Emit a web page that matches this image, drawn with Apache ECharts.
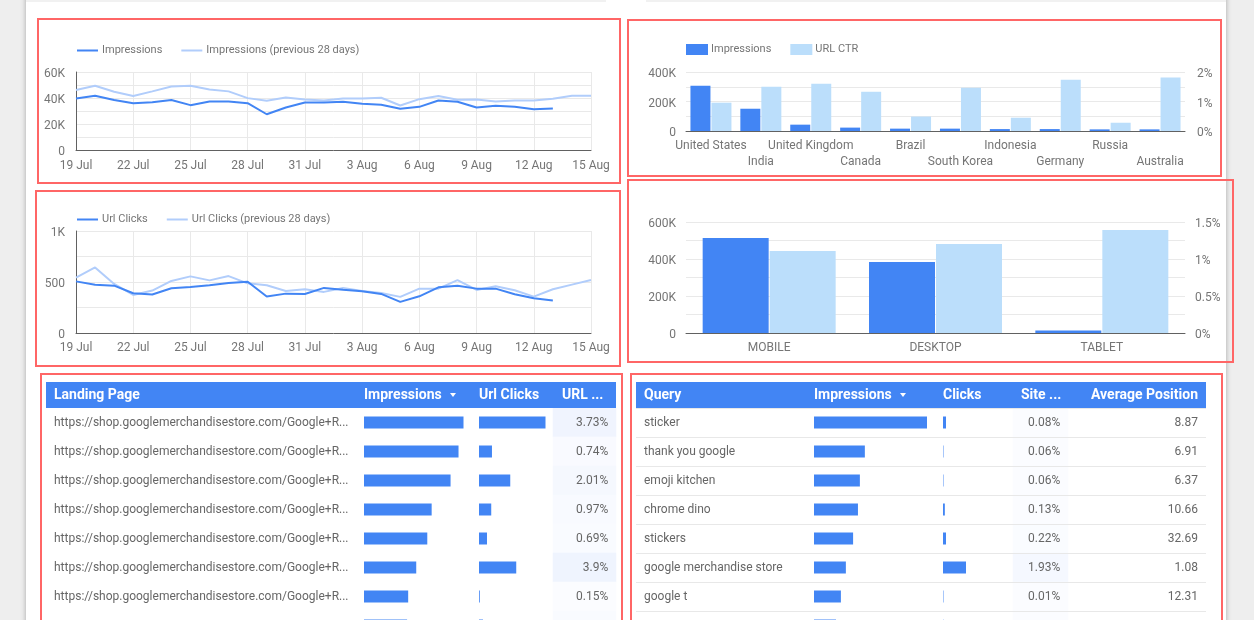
<!DOCTYPE html>
<html>
<head>
<meta charset="utf-8">
<title>Search Console report</title>
<script src="https://cdn.jsdelivr.net/npm/echarts@6/dist/echarts.min.js"></script>
<style>
    html, body { margin: 0; padding: 0; background: #eeeeee; overflow: hidden; height: 620px; }
    /* tables run past the window bottom, same as the screenshot */
    #main { width: 1254px; height: 660px; }
</style>
</head>
<body>
<div id="main"></div>
<script>
// [ Data ]
const days = ['19 Jul','20 Jul','21 Jul','22 Jul','23 Jul','24 Jul','25 Jul','26 Jul','27 Jul','28 Jul','29 Jul','30 Jul','31 Jul','1 Aug','2 Aug','3 Aug','4 Aug','5 Aug','6 Aug','7 Aug','8 Aug','9 Aug','10 Aug','11 Aug','12 Aug','13 Aug','14 Aug','15 Aug'];

const impressions = [39700,41700,38400,36000,36800,38400,34500,37300,37300,36000,27500,32700,36600,36600,37100,35500,34800,31700,33200,38100,37100,32700,34000,33200,31400,31900];
const impressionsPrev = [46100,49400,44800,41500,45100,48900,49400,46600,45100,39900,37900,40400,38900,38100,39700,39700,40200,34200,39100,41500,38600,38900,37300,38100,38100,39400,41700,41700];

const urlClicks = [506,474,464,390,377,438,451,468,490,503,357,386,383,442,425,409,383,305,360,448,464,435,435,380,341,318];
const urlClicksPrev = [542,643,481,373,416,510,555,516,558,487,468,412,429,403,442,412,393,354,435,435,519,422,458,419,357,429,474,519];

const countries = ['United States','India','United Kingdom','Canada','Brazil','South Korea','Indonesia','Germany','Russia','Australia'];
const countryImpressions = [307000,151000,43000,23000,16000,16000,13000,13000,11000,11000];
const countryCtr = [0.96,1.5,1.6,1.33,0.49,1.47,0.45,1.74,0.28,1.81];

const devices = ['MOBILE','DESKTOP','TABLET'];
const deviceImpressions = [514000,384000,13000];
const deviceCtr = [1.109,1.204,1.392];

// last row of both tables is cut off by the picture, its text is not readable
const pageUrl = 'https://shop.googlemerchandisestore.com/Google+R...';
const pageNames = [pageUrl,pageUrl,pageUrl,pageUrl,pageUrl,pageUrl,pageUrl,''];
const pageImpressions = [100,95,87,68,63.6,52.5,44.4,43.3];
const pageClicks = [100,19.5,47,18.4,12,56,1.2,6];
const pageCtr = [3.73,0.74,2.01,0.97,0.69,3.9,0.15,0.5];

const queryNames = ['sticker','thank you google','emoji kitchen','chrome dino','stickers','google merchandise store','google t',''];
const queryImpressions = [100,45,40.6,38.9,34.6,28.2,23.8,19.5];
const queryClicks = [13,2,2,8,13,100,2,2];
const queryCtr = [0.08,0.06,0.06,0.13,0.22,1.93,0.01,0.05];
const queryPosition = ['8.87','6.91','6.37','10.66','32.69','1.08','12.31',''];

const BLUE = '#4285f4';
const BLUE_PREV = '#b1cdfb';
const BLUE_LIGHT = '#bbdefb';
const GRID_LINE = '#e9e9e9';
const AXIS_LINE = '#616161';
const LABEL = '#757575';
const BODY_TEXT = '#666666';
const FONT = 'Roboto';
const ROW = 29;
const rowIds = [0,1,2,3,4,5,6,7];

const grid = [], xAxis = [], yAxis = [], series = [], legend = [], graphic = [];

function addGrid(left, top, width, height) {
    grid.push({ left, top, width, height, containLabel: false });
    return grid.length - 1;
}

const split = { show: true, lineStyle: { color: GRID_LINE, width: 1 } };
const tick = { fontFamily: FONT, fontSize: 12, color: LABEL };
// value labels sit 2px below their gridline in the original
const valueTick = { ...tick, verticalAlign: 'top', padding: [-4, 0, 0, 0] };
const darkLine = { show: true, lineStyle: { color: AXIS_LINE, width: 1 } };

function lineChart(top, height, max, step, labelStep, fmt, name, cur, prev, legendTop, xMargin) {
    const g = addGrid(76, top, 515, height);
    xAxis.push({
        gridIndex: g, type: 'category', data: days, boundaryGap: false,
        axisLine: darkLine, axisTick: { show: false },
        axisLabel: { ...tick, interval: 2, margin: xMargin, hideOverlap: false, showMaxLabel: true },
        splitLine: { ...split, interval: 2 }
    });
    yAxis.push({
        gridIndex: g, type: 'value', min: 0, max, interval: step,
        axisLine: darkLine, axisTick: { show: false }, splitLine: split,
        axisLabel: { ...valueTick, margin: 11, formatter: v => v % labelStep ? '' : fmt(v) }
    });
    const ax = xAxis.length - 1;
    [[name, cur, BLUE], [name + ' (previous 28 days)', prev, BLUE_PREV]].forEach(s => {
        series.push({
            name: s[0], type: 'line', xAxisIndex: ax, yAxisIndex: yAxis.length - 1, data: s[1],
            symbol: 'none', smooth: false, z: s[2] === BLUE ? 4 : 3,
            lineStyle: { color: s[2], width: 2 }, itemStyle: { color: s[2] }
        });
    });
    legend.push({
        data: [name, name + ' (previous 28 days)'], left: 76, top: legendTop,
        itemWidth: 21, itemHeight: 12, itemGap: 18, padding: 0,
        itemStyle: { color: 'transparent', opacity: 0, borderWidth: 0 },
        textStyle: { fontFamily: FONT, fontSize: 11, color: LABEL, padding: [0, 0, 0, -1] }
    });
}

function barChart(top, height, names, barVals, ctrVals, barMax, barStep, ctrMax, ctrStep, barW, opts) {
    const g = addGrid(686, top, 499, height);
    xAxis.push({
        gridIndex: g, type: 'category', data: names,
        axisLine: darkLine, axisTick: { show: false },
        axisLabel: { ...tick, interval: 0, margin: opts.xMargin, lineHeight: 16, hideOverlap: false, formatter: opts.xFmt }
    });
    const ax = xAxis.length - 1;
    yAxis.push({
        gridIndex: g, type: 'value', min: 0, max: barMax, interval: barStep,
        axisLine: { show: false }, axisTick: { show: false }, splitLine: split,
        axisLabel: { ...valueTick, margin: 10, formatter: v => v % (barStep * 2) ? '' : (v ? (v / 1000) + 'K' : '0') }
    });
    yAxis.push({
        gridIndex: g, type: 'value', min: 0, max: ctrMax, interval: ctrStep, position: 'right',
        axisLine: { show: false }, axisTick: { show: false }, splitLine: { show: false },
        axisLabel: { ...valueTick, margin: opts.rightMargin, formatter: v => v % (ctrStep * 2) ? '' : v + '%' }
    });
    series.push({
        name: 'Impressions', type: 'bar', xAxisIndex: ax, yAxisIndex: yAxis.length - 2, data: barVals,
        barWidth: barW, barGap: opts.gap, itemStyle: { color: BLUE }
    });
    series.push({
        name: 'URL CTR', type: 'bar', xAxisIndex: ax, yAxisIndex: yAxis.length - 1, data: ctrVals,
        barWidth: barW, barGap: opts.gap, itemStyle: { color: BLUE_LIGHT }
    });
}

lineChart(72, 78, 60000, 10000, 20000, v => v ? (v / 1000) + 'K' : '0', 'Impressions', impressions, impressionsPrev, 45, 10);
lineChart(231, 102, 1000, 250, 500, v => v === 1000 ? '1K' : String(v), 'Url Clicks', urlClicks, urlClicksPrev, 214, 9);

barChart(72, 59, countries, countryImpressions, countryCtr, 400000, 100000, 2, 0.5, 20, {
    xMargin: 7, gap: '5%', rightMargin: 12, xFmt: (v, i) => i % 2 ? '\n' + v : v
});
legend.push({
    data: ['Impressions', 'URL CTR'], left: 686, top: 44, itemWidth: 22, itemHeight: 11, itemGap: 19, padding: 0,
    icon: 'rect',
    textStyle: { fontFamily: FONT, fontSize: 11, color: LABEL, padding: [0, 0, 0, -2] }
});
barChart(222, 111, devices, deviceImpressions, deviceCtr, 600000, 100000, 1.5, 0.25, 66, {
    xMargin: 7, gap: '1.5%', rightMargin: 10
});

// [ Tables ]
const heatSeries = [];

function rowAxis(g, extra) {
    return {
        gridIndex: g, type: 'category', data: rowIds, inverse: true,
        axisLine: { show: false }, axisTick: { show: false }, splitLine: { show: false },
        axisLabel: { show: false }, ...extra
    };
}

function hiddenValueAxis(g) {
    return { gridIndex: g, type: 'value', min: 0, max: 100, show: false, splitLine: { show: false } };
}

function tableTextColumns(left, width, names, withRows, rightTexts) {
    const g = addGrid(left, 408, width, ROW * 8);
    xAxis.push(hiddenValueAxis(g));
    yAxis.push(rowAxis(g, {
        z: 5,
        axisLabel: {
            show: true, inside: true, margin: 8, interval: 0,
            fontFamily: FONT, fontSize: 12, color: BODY_TEXT,
            formatter: (v, i) => names[i]
        },
        splitLine: { show: withRows, interval: 0, lineStyle: { color: '#e8e8e8', width: 1 } }
    }));
    if (rightTexts) {
        yAxis.push(rowAxis(g, {
            position: 'right',
            axisLabel: {
                show: true, inside: true, margin: 8, interval: 0,
                fontFamily: FONT, fontSize: 12, color: BODY_TEXT,
                formatter: (v, i) => rightTexts[i]
            }
        }));
    }
}

function tableBars(left, width, vals) {
    const g = addGrid(left, 408, width, ROW * 8);
    xAxis.push(hiddenValueAxis(g));
    yAxis.push(rowAxis(g, { show: false }));
    series.push({
        type: 'bar', xAxisIndex: xAxis.length - 1, yAxisIndex: yAxis.length - 1, data: vals,
        barWidth: 12, silent: true, itemStyle: { color: BLUE }
    });
}

function tableHeat(left, width, vals) {
    const g = addGrid(left, 408, width, ROW * 8);
    xAxis.push({ gridIndex: g, type: 'category', data: ['ctr'], show: false, splitLine: { show: false } });
    yAxis.push(rowAxis(g, { show: false }));
    heatSeries.push(series.length);
    series.push({
        type: 'heatmap', xAxisIndex: xAxis.length - 1, yAxisIndex: yAxis.length - 1,
        data: vals.map((v, i) => [0, i, v]), silent: true,
        label: {
            show: true, position: 'insideRight', distance: 8,
            fontFamily: FONT, fontSize: 12, color: BODY_TEXT,
            formatter: p => p.value[2] + '%'
        }
    });
}

tableTextColumns(46, 570, pageNames, false);
tableBars(364, 99.5, pageImpressions);
tableBars(479, 66.5, pageClicks);
tableHeat(553, 63, pageCtr);

tableTextColumns(636, 570, queryNames, true, queryPosition);
tableBars(814, 113, queryImpressions);
tableBars(943, 23, queryClicks);
tableHeat(1013, 55, queryCtr);

// [ Page furniture ]
graphic.push(
    { type: 'rect', z: -20, shape: { x: 26, y: -10, width: 1200, height: 690 }, style: { fill: '#fff', shadowBlur: 5, shadowColor: 'rgba(0,0,0,0.3)' } },
    { type: 'rect', z: -19, shape: { x: 26, y: 0, width: 580, height: 2 }, style: { fill: '#f1f1f1' } },
    { type: 'rect', z: -19, shape: { x: 646, y: 0, width: 580, height: 2 }, style: { fill: '#f1f1f1' } }
);

const redBoxes = [[38,19,582,164],[36,191,584,175],[628,20,593,156],[628,180,605,182],[41,374,581,270],[631,374,591,270]];
redBoxes.forEach(b => {
    graphic.push({
        type: 'rect', z: 20, shape: { x: b[0], y: b[1], width: b[2], height: b[3] },
        style: { fill: null, stroke: '#ff6666', lineWidth: 2 }
    });
});

const headers = [
    { left: 46, width: 570, cols: [['Landing Page', 54], ['Impressions', 364], ['Url Clicks', 479], ['URL ...', 562]], sort: 450 },
    { left: 636, width: 570, cols: [['Query', 644], ['Impressions', 814], ['Clicks', 943], ['Site ...', 1021], ['Average Position', 1198, 'right']], sort: 900 }
];
headers.forEach(h => {
    graphic.push({ type: 'rect', z: 10, shape: { x: h.left, y: 382, width: h.width, height: 26 }, style: { fill: BLUE } });
    h.cols.forEach(c => {
        graphic.push({
            type: 'text', z: 11, x: c[1], y: 395,
            style: { text: c[0], fill: '#fff', font: 'bold 14px ' + FONT, align: c[2] || 'left', verticalAlign: 'middle' }
        });
    });
    graphic.push({
        type: 'polygon', z: 11,
        shape: { points: [[h.sort, 393], [h.sort + 6, 393], [h.sort + 3, 397]] },
        style: { fill: '#fff' }
    });
});

const chart = echarts.init(document.getElementById('main'));
chart.setOption({
    animation: false,
    backgroundColor: '#eeeeee',
    textStyle: { fontFamily: FONT },
    tooltip: { show: false },
    grid, xAxis, yAxis, legend, series, graphic,
    visualMap: {
        show: false, type: 'continuous', seriesIndex: heatSeries, dimension: 2,
        min: 0, max: 3.9, inRange: { color: ['#fbfcff', '#eff4fe'] }
    }
});
</script>
</body>
</html>
